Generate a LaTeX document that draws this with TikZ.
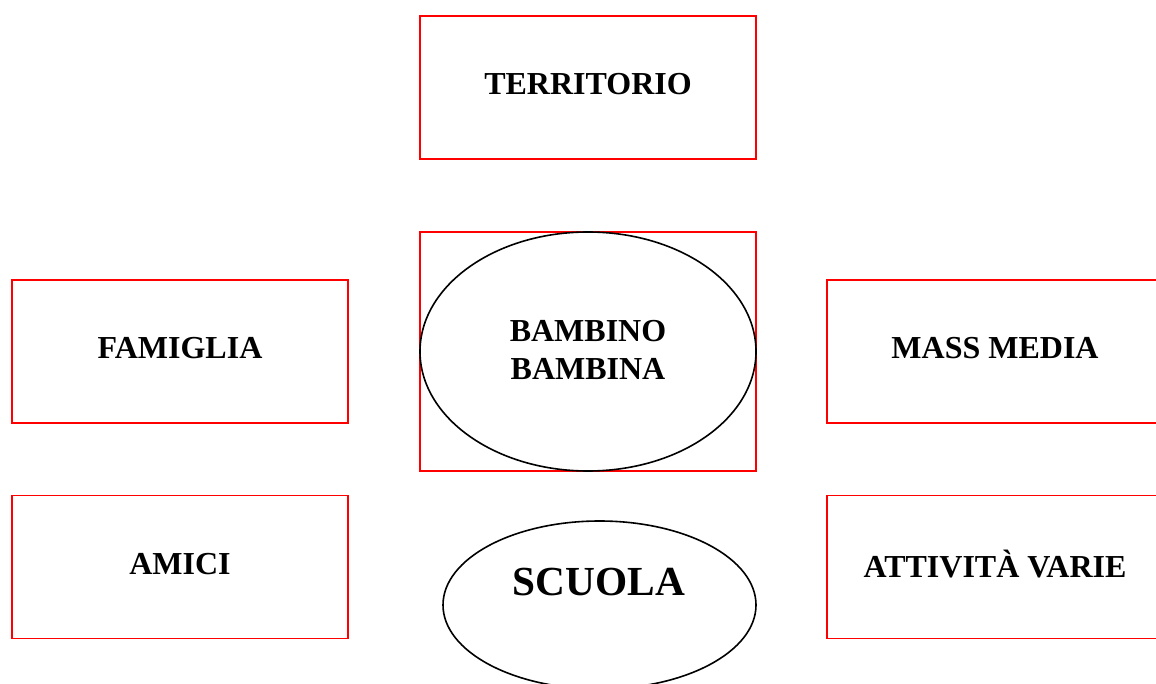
\documentclass[tikz,border=0pt]{standalone}
\usepackage{fontspec}
\setmainfont{Liberation Serif}
\usetikzlibrary{shapes.geometric}
\begin{document}
\begin{tikzpicture}[x=0.75pt,y=-0.75pt,
  redbox/.style={draw=red, line width=1.3pt, rectangle, inner sep=0pt, minimum width=252pt, minimum height=107.25pt},
  oval/.style={draw=black, line width=1.2pt, ellipse, inner sep=0pt},
  lbl/.style={font=\fontsize{24}{28.5}\selectfont\bfseries, align=center, inner sep=0pt}]
\useasboundingbox (0,0) rectangle (1156,684);
\node[redbox] (terr) at (588,87.5) {};
\node[lbl] (terrt) at (588,84) {TERRITORIO};
\node[redbox, minimum height=179.25pt] (centre) at (588,351.5) {};
\node[oval, minimum width=252pt, minimum height=179.25pt] (bimbo) at (588,351.5) {};
\node[lbl] (bimbot) at (588,350) {BAMBINO\\BAMBINA};
\node[redbox] (fam) at (180,351.5) {};
\node[lbl] (famt) at (180,348) {FAMIGLIA};
\node[redbox] (amici) at (180,567) {};
\node[lbl] (amicit) at (180,564) {AMICI};
\node[redbox] (mass) at (995,351.5) {};
\node[lbl] (masst) at (995,348) {MASS MEDIA};
\node[redbox] (att) at (995,567) {};
\node[lbl] (attt) at (995,564) {ATTIVITÀ VARIE};
\node[oval, minimum width=234.75pt, minimum height=126pt] (scuola) at (599.5,605) {};
\node[lbl, font=\fontsize{31}{36}\selectfont\bfseries] (scuolat) at (599,582) {SCUOLA};
\end{tikzpicture}
\end{document}
